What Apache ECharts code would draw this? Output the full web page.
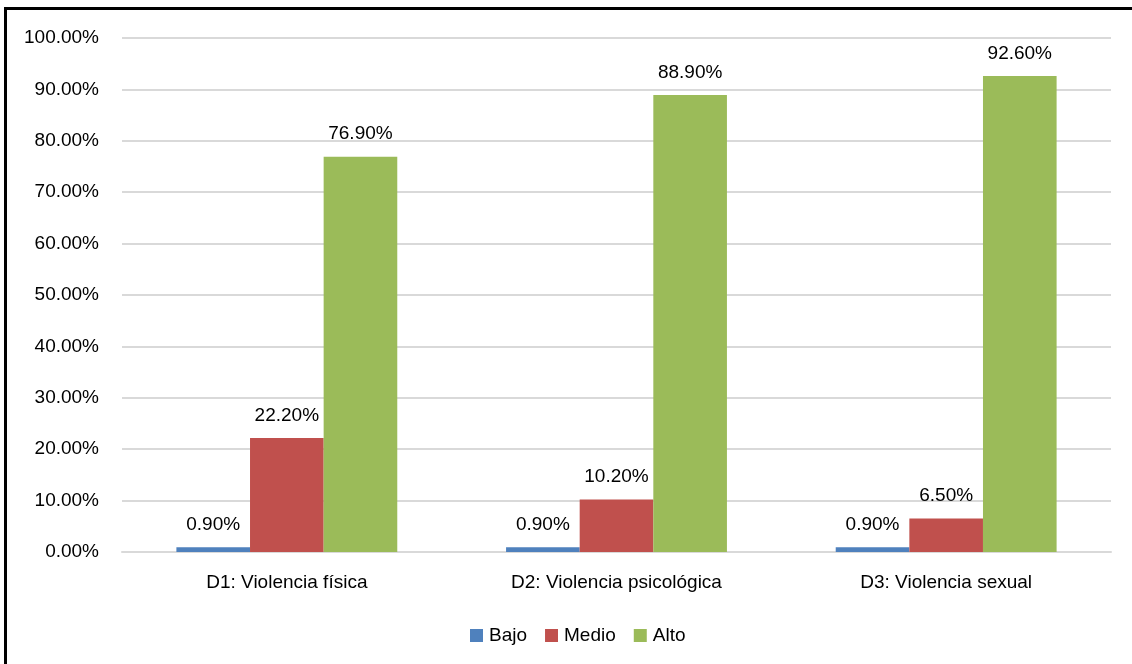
<!DOCTYPE html>
<html><head><meta charset="utf-8">
<script src="https://cdn.jsdelivr.net/npm/echarts@6/dist/echarts.min.js"></script>
<style>
html,body{margin:0;padding:0;background:#fff;}
#c{position:absolute;left:0;top:0;width:1132px;height:664px;}
#b{position:absolute;left:4px;top:7px;width:1140px;height:670px;border-left:3px solid #000;border-top:3px solid #000;pointer-events:none;}
</style></head>
<body>
<div id="c"></div><div id="b"></div>
<script>
const categories = ['D1: Violencia física', 'D2: Violencia psicológica', 'D3: Violencia sexual'];
const bajo = [0.9, 0.9, 0.9];
const medio = [22.2, 10.2, 6.5];
const alto = [76.9, 88.9, 92.6];
const seriesNames = ['Bajo', 'Medio', 'Alto'];
const colors = ['#4F81BD', '#C0504D', '#9BBB59'];

const font = 'Liberation Sans, Arial, sans-serif';
const chart = echarts.init(document.getElementById('c'));
const mk = (name, data, color) => ({
  name, type: 'bar', data, barGap: '0%', barCategoryGap: '33%',
  itemStyle: { color },
  label: { show: true, position: 'top', distance: 13, color: '#000', fontFamily: font, fontSize: 19,
    formatter: p => p.value.toFixed(2) + '%' }
});
chart.setOption({
  animation: false,
  textStyle: { fontFamily: font },
  grid: { left: 122, right: 21, top: 38, bottom: 112 },
  legend: {
    top: 621, left: 465, itemWidth: 13, itemHeight: 13, itemGap: 18,
    icon: 'rect',
    textStyle: { fontFamily: font, fontSize: 19, color: '#000', padding: [0, 0, 0, 1] },
    data: seriesNames
  },
  xAxis: {
    type: 'category', data: categories,
    axisLine: { show: true, lineStyle: { color: '#d9d9d9', width: 2 } },
    axisTick: { show: false },
    axisLabel: { color: '#000', fontFamily: font, fontSize: 19, margin: 21 }
  },
  yAxis: {
    type: 'value', min: 0, max: 100, interval: 10,
    axisLine: { show: false }, axisTick: { show: false },
    splitLine: { lineStyle: { color: '#d9d9d9', width: 2 } },
    axisLabel: { color: '#000', fontFamily: font, fontSize: 19, margin: 23,
      formatter: v => v.toFixed(2) + '%' }
  },
  series: [mk(seriesNames[0], bajo, colors[0]), mk(seriesNames[1], medio, colors[1]), mk(seriesNames[2], alto, colors[2])]
});
</script>
</body></html>
